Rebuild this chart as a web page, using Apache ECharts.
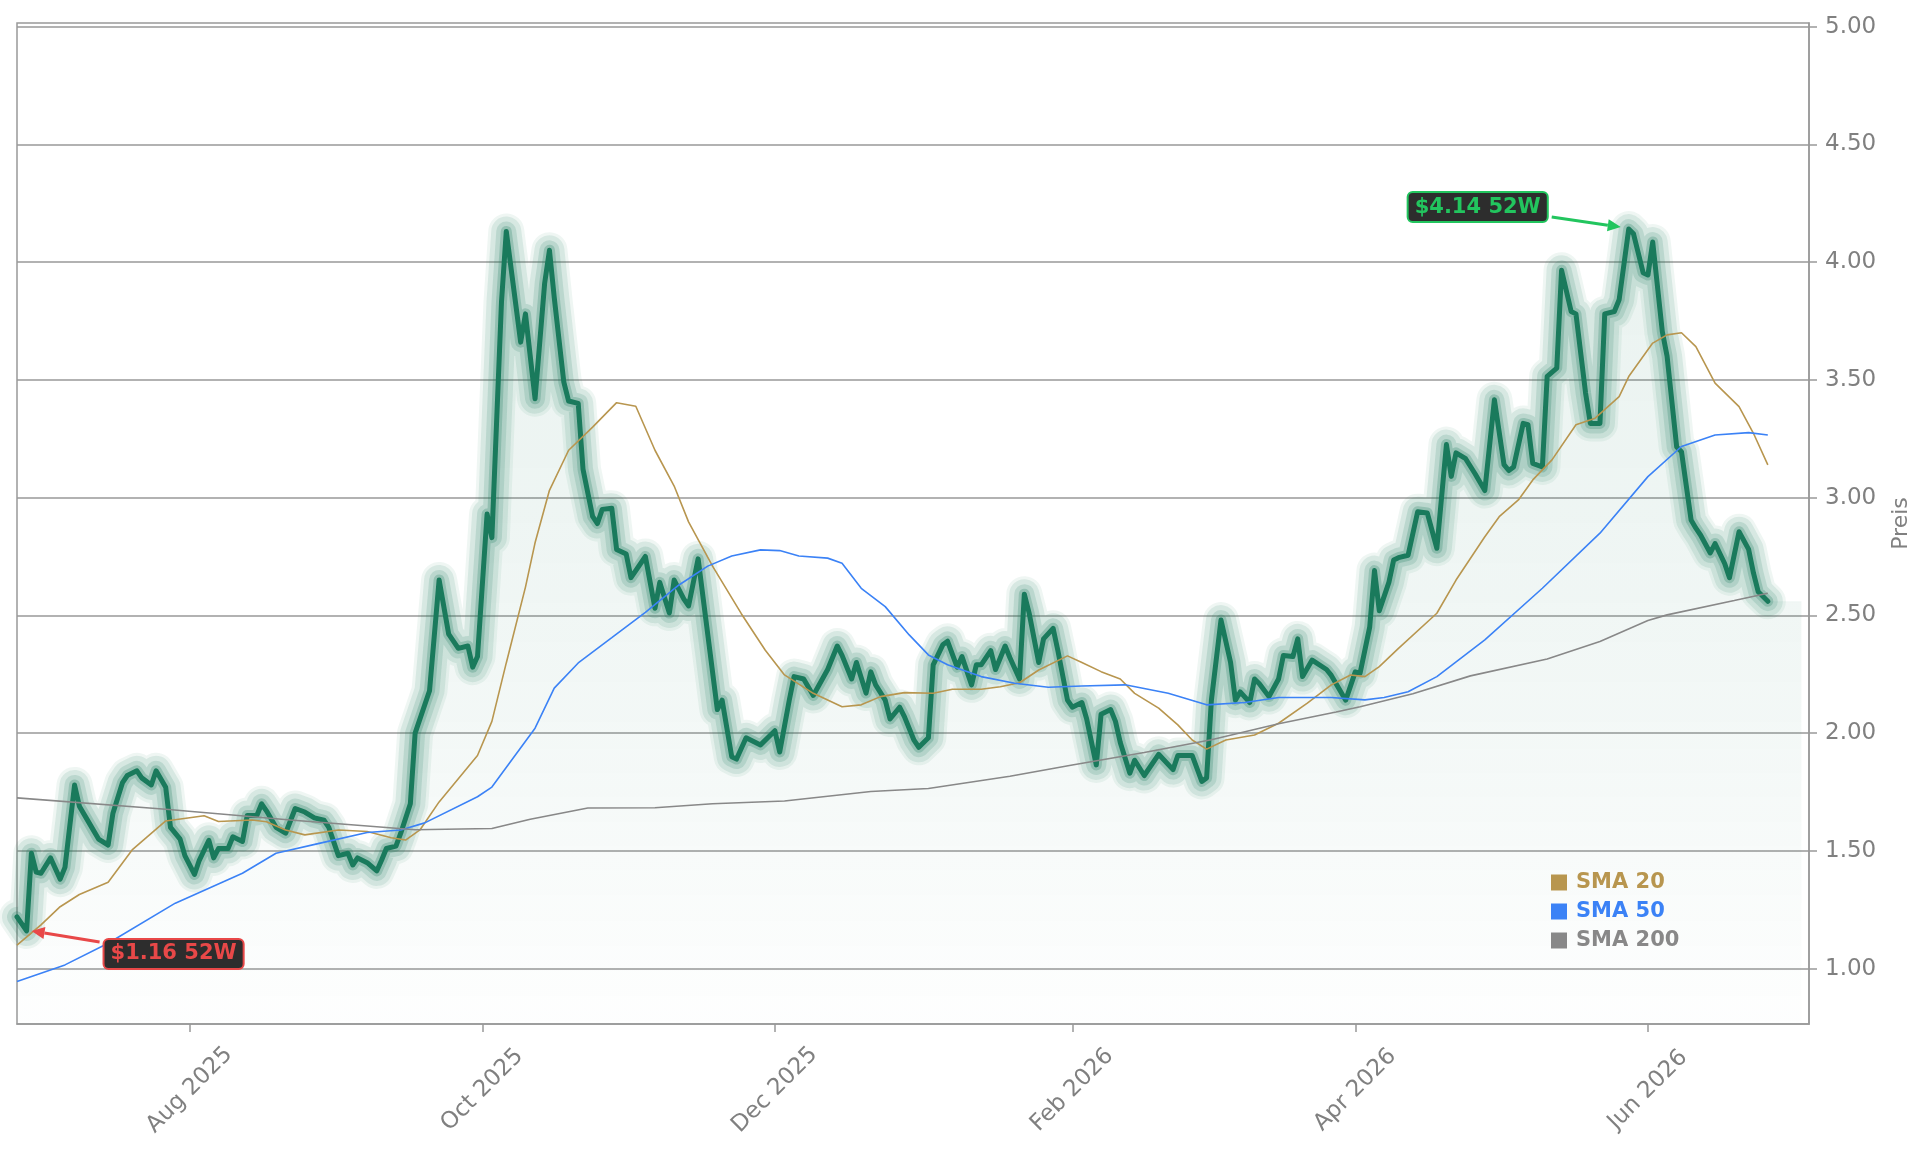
<!DOCTYPE html>
<html>
<head>
<meta charset="utf-8">
<script src="https://cdn.jsdelivr.net/npm/echarts@6/dist/echarts.min.js"></script>
<style>
  html, body { margin: 0; padding: 0; background: #fff; }
  #chart { width: 1929px; height: 1157px; }
</style>
</head>
<body>
<div id="chart"></div>
<script>
// daily close
const price = [
  ['2025-06-26',1.22],['2025-06-28',1.16],['2025-06-29',1.49],['2025-06-30',1.41],['2025-07-01',1.405],['2025-07-03',1.47],
  ['2025-07-05',1.38],['2025-07-06',1.43],['2025-07-08',1.78],['2025-07-09',1.69],['2025-07-11',1.62],['2025-07-13',1.55],
  ['2025-07-15',1.525],['2025-07-16',1.66],['2025-07-18',1.79],['2025-07-19',1.82],['2025-07-21',1.84],['2025-07-22',1.81],
  ['2025-07-24',1.78],['2025-07-25',1.84],['2025-07-27',1.77],['2025-07-28',1.60],['2025-07-30',1.55],['2025-07-31',1.48],
  ['2025-08-02',1.40],['2025-08-03',1.46],['2025-08-05',1.545],['2025-08-06',1.47],['2025-08-07',1.51],['2025-08-09',1.51],
  ['2025-08-10',1.56],['2025-08-12',1.54],['2025-08-13',1.65],['2025-08-15',1.65],['2025-08-16',1.70],['2025-08-17',1.67],
  ['2025-08-19',1.60],['2025-08-21',1.575],['2025-08-23',1.68],['2025-08-25',1.665],['2025-08-27',1.64],['2025-08-29',1.63],
  ['2025-08-30',1.60],['2025-09-01',1.48],['2025-09-03',1.49],['2025-09-04',1.44],['2025-09-05',1.47],['2025-09-07',1.45],
  ['2025-09-09',1.415],['2025-09-10',1.46],['2025-09-11',1.51],['2025-09-13',1.52],['2025-09-14',1.575],['2025-09-16',1.70],
  ['2025-09-17',2.00],['2025-09-20',2.18],['2025-09-22',2.65],['2025-09-24',2.42],['2025-09-26',2.36],['2025-09-28',2.37],
  ['2025-09-29',2.28],['2025-09-30',2.325],['2025-10-02',2.93],['2025-10-03',2.83],['2025-10-05',3.83],['2025-10-06',4.13],
  ['2025-10-09',3.66],['2025-10-10',3.78],['2025-10-12',3.42],['2025-10-14',3.91],['2025-10-15',4.05],['2025-10-16',3.85],
  ['2025-10-18',3.49],['2025-10-19',3.41],['2025-10-21',3.40],['2025-10-22',3.12],['2025-10-24',2.92],['2025-10-25',2.89],
  ['2025-10-26',2.95],['2025-10-28',2.955],['2025-10-29',2.78],['2025-10-31',2.76],['2025-11-01',2.66],['2025-11-04',2.75],
  ['2025-11-06',2.53],['2025-11-07',2.64],['2025-11-09',2.51],['2025-11-10',2.65],['2025-11-12',2.57],['2025-11-13',2.54],
  ['2025-11-15',2.74],['2025-11-18',2.26],['2025-11-19',2.10],['2025-11-20',2.14],['2025-11-22',1.90],['2025-11-23',1.89],
  ['2025-11-25',1.98],['2025-11-28',1.95],['2025-12-01',2.01],['2025-12-02',1.92],['2025-12-04',2.14],['2025-12-05',2.24],
  ['2025-12-07',2.23],['2025-12-09',2.16],['2025-12-12',2.27],['2025-12-14',2.37],['2025-12-15',2.33],['2025-12-17',2.23],
  ['2025-12-18',2.30],['2025-12-20',2.17],['2025-12-21',2.26],['2025-12-22',2.205],['2025-12-24',2.14],['2025-12-25',2.06],
  ['2025-12-27',2.11],['2025-12-28',2.07],['2025-12-30',1.97],['2025-12-31',1.94],['2026-01-02',1.98],['2026-01-03',2.29],
  ['2026-01-05',2.375],['2026-01-06',2.39],['2026-01-08',2.28],['2026-01-09',2.325],['2026-01-11',2.205],['2026-01-12',2.29],
  ['2026-01-13',2.29],['2026-01-15',2.35],['2026-01-16',2.27],['2026-01-18',2.37],['2026-01-19',2.32],['2026-01-21',2.23],
  ['2026-01-22',2.59],['2026-01-23',2.51],['2026-01-25',2.30],['2026-01-26',2.40],['2026-01-28',2.445],['2026-01-29',2.35],
  ['2026-01-31',2.14],['2026-02-01',2.11],['2026-02-03',2.13],['2026-02-04',2.06],['2026-02-06',1.865],['2026-02-07',2.08],
  ['2026-02-09',2.10],['2026-02-10',2.05],['2026-02-11',1.96],['2026-02-13',1.83],['2026-02-14',1.885],['2026-02-16',1.82],
  ['2026-02-19',1.91],['2026-02-22',1.845],['2026-02-23',1.905],['2026-02-26',1.905],['2026-02-28',1.795],['2026-03-01',1.81],
  ['2026-03-02',2.14],['2026-03-04',2.48],['2026-03-06',2.30],['2026-03-07',2.14],['2026-03-08',2.175],['2026-03-10',2.13],
  ['2026-03-11',2.23],['2026-03-12',2.21],['2026-03-14',2.155],['2026-03-16',2.23],['2026-03-17',2.33],['2026-03-19',2.325],
  ['2026-03-20',2.40],['2026-03-21',2.24],['2026-03-23',2.31],['2026-03-26',2.27],['2026-03-27',2.245],['2026-03-29',2.175],
  ['2026-03-30',2.14],['2026-04-01',2.26],['2026-04-02',2.255],['2026-04-04',2.45],['2026-04-05',2.69],['2026-04-06',2.52],
  ['2026-04-08',2.64],['2026-04-09',2.735],['2026-04-10',2.745],['2026-04-12',2.755],['2026-04-14',2.94],['2026-04-16',2.935],
  ['2026-04-18',2.785],['2026-04-20',3.225],['2026-04-21',3.09],['2026-04-22',3.19],['2026-04-24',3.165],['2026-04-26',3.10],
  ['2026-04-28',3.03],['2026-04-30',3.415],['2026-05-02',3.14],['2026-05-03',3.115],['2026-05-04',3.13],['2026-05-06',3.315],
  ['2026-05-07',3.31],['2026-05-08',3.145],['2026-05-10',3.13],['2026-05-11',3.515],['2026-05-13',3.55],['2026-05-14',3.965],
  ['2026-05-16',3.79],['2026-05-17',3.78],['2026-05-19',3.445],['2026-05-20',3.315],['2026-05-22',3.315],['2026-05-23',3.78],
  ['2026-05-25',3.79],['2026-05-26',3.84],['2026-05-28',4.14],['2026-05-29',4.12],['2026-05-31',3.955],['2026-06-01',3.945],
  ['2026-06-02',4.085],['2026-06-04',3.705],['2026-06-05',3.60],['2026-06-07',3.215],['2026-06-08',3.195],['2026-06-10',2.905],
  ['2026-06-11',2.87],['2026-06-12',2.84],['2026-06-14',2.765],['2026-06-15',2.805],['2026-06-17',2.72],['2026-06-18',2.66],
  ['2026-06-20',2.855],['2026-06-22',2.78],['2026-06-23',2.68],['2026-06-24',2.60],['2026-06-26',2.56]
];

// the shaded area runs on flat a little past the last close
const fillEnd = ['2026-07-03', 2.56];

const sma20 = [
  ['2025-06-26',1.10],['2025-07-01',1.186],['2025-07-05',1.263],['2025-07-09',1.315],['2025-07-15',1.367],['2025-07-20',1.504],
  ['2025-07-27',1.627],['2025-08-01',1.641],['2025-08-04',1.649],['2025-08-07',1.625],['2025-08-14',1.631],['2025-08-17',1.624],
  ['2025-08-21',1.589],['2025-08-25',1.568],['2025-09-01',1.589],['2025-09-07',1.582],['2025-09-12',1.556],['2025-09-15',1.546],
  ['2025-09-18',1.589],['2025-09-22',1.708],['2025-09-30',1.905],['2025-10-03',2.05],['2025-10-06',2.298],['2025-10-10',2.62],
  ['2025-10-12',2.808],['2025-10-15',3.031],['2025-10-19',3.201],['2025-10-24',3.299],['2025-10-29',3.403],['2025-11-02',3.388],
  ['2025-11-06',3.201],['2025-11-10',3.049],['2025-11-13',2.897],['2025-11-18',2.709],['2025-11-24',2.507],['2025-11-29',2.352],
  ['2025-12-03',2.247],['2025-12-09',2.169],['2025-12-15',2.112],['2025-12-19',2.12],['2025-12-23',2.155],['2025-12-28',2.172],
  ['2026-01-03',2.169],['2026-01-07',2.186],['2026-01-13',2.186],['2026-01-17',2.197],['2026-01-21',2.214],['2026-01-25',2.268],
  ['2026-01-31',2.328],['2026-02-03',2.30],['2026-02-07',2.261],['2026-02-11',2.23],['2026-02-14',2.169],['2026-02-19',2.106],
  ['2026-02-23',2.035],['2026-02-26',1.971],['2026-03-01',1.932],['2026-03-05',1.971],['2026-03-11',1.992],['2026-03-16',2.042],
  ['2026-03-22',2.127],['2026-03-27',2.205],['2026-03-31',2.247],['2026-04-03',2.24],['2026-04-06',2.282],['2026-04-10',2.36],
  ['2026-04-18',2.509],['2026-04-22',2.65],['2026-04-28',2.834],['2026-05-01',2.919],['2026-05-05',2.99],['2026-05-08',3.075],
  ['2026-05-12',3.16],['2026-05-17',3.309],['2026-05-21',3.337],['2026-05-26',3.429],['2026-05-28',3.514],['2026-06-02',3.656],
  ['2026-06-05',3.691],['2026-06-08',3.70],['2026-06-11',3.641],['2026-06-15',3.486],['2026-06-20',3.386],['2026-06-23',3.273],
  ['2026-06-26',3.139]
];

const sma50 = [
  ['2025-06-26',0.945],['2025-07-06',1.016],['2025-07-15',1.108],['2025-07-29',1.278],['2025-08-12',1.405],['2025-08-19',1.49],
  ['2025-08-28',1.532],['2025-09-07',1.578],['2025-09-14',1.589],['2025-09-19',1.619],['2025-09-30',1.73],['2025-10-03',1.771],
  ['2025-10-12',2.021],['2025-10-16',2.191],['2025-10-21',2.298],['2025-10-28',2.405],['2025-11-04',2.513],['2025-11-11',2.629],
  ['2025-11-17',2.709],['2025-11-22',2.752],['2025-11-28',2.778],['2025-12-02',2.775],['2025-12-06',2.752],['2025-12-12',2.743],
  ['2025-12-15',2.721],['2025-12-19',2.615],['2025-12-24',2.537],['2025-12-29',2.417],['2026-01-02',2.332],['2026-01-06',2.29],
  ['2026-01-13',2.24],['2026-01-20',2.212],['2026-01-27',2.195],['2026-02-03',2.20],['2026-02-12',2.205],['2026-02-21',2.169],
  ['2026-03-01',2.12],['2026-03-09',2.13],['2026-03-16',2.151],['2026-03-27',2.151],['2026-04-03',2.141],['2026-04-07',2.151],
  ['2026-04-12',2.176],['2026-04-18',2.24],['2026-04-28',2.396],['2026-05-10',2.615],['2026-05-22',2.849],['2026-06-01',3.089],
  ['2026-06-08',3.217],['2026-06-15',3.266],['2026-06-22',3.276],['2026-06-26',3.266]
];

const sma200 = [
  ['2025-06-26',1.725],['2025-07-27',1.677],['2025-08-22',1.631],['2025-09-17',1.590],['2025-10-03',1.595],['2025-10-11',1.634],
  ['2025-10-23',1.682],['2025-11-06',1.683],['2025-11-18',1.700],['2025-12-03',1.712],['2025-12-21',1.752],['2026-01-02',1.765],
  ['2026-01-19',1.817],['2026-02-01',1.865],['2026-02-16',1.918],['2026-03-02',1.972],['2026-03-16',2.040],['2026-03-28',2.090],
  ['2026-04-02',2.112],['2026-04-13',2.167],['2026-04-25',2.243],['2026-05-11',2.315],['2026-05-22',2.389],['2026-06-01',2.478],
  ['2026-06-05',2.502],['2026-06-19',2.563],['2026-06-26',2.594]
];

const monthTicks = ['2025-08-01','2025-10-01','2025-12-01','2026-02-01','2026-04-01','2026-06-01'];
const priceTicks = [1.0, 1.5, 2.0, 2.5, 3.0, 3.5, 4.0, 4.5, 5.0];
const monthNames = ['Jan','Feb','Mar','Apr','May','Jun','Jul','Aug','Sep','Oct','Nov','Dec'];

const GREEN = '#1a7a5c';
const C20 = '#b8964f';
const C50 = '#3b82f6';
const C200 = '#888888';
const FONT = 'DejaVu Sans';

function ts(s) {
  const p = s.split('-');
  return new Date(+p[0], +p[1] - 1, +p[2]).getTime();
}
const toXY = arr => arr.map(d => [ts(d[0]), d[1]]);

const glowWidths = [36, 30, 20, 11];
const glowAlpha = [0.07, 0.11, 0.15, 0.24];

const chart = echarts.init(document.getElementById('chart'));

const series = [
  {
    type: 'line', data: toXY(price.concat([fillEnd])), symbol: 'none', silent: true, z: 1,
    lineStyle: { width: 0 },
    areaStyle: {
      origin: 'start',
      color: new echarts.graphic.LinearGradient(0, 0, 0, 1, [
        { offset: 0, color: 'rgba(26,122,92,0.13)' },
        { offset: 0.35, color: 'rgba(26,122,92,0.105)' },
        { offset: 0.63, color: 'rgba(26,122,92,0.075)' },
        { offset: 0.8, color: 'rgba(26,122,92,0.045)' },
        { offset: 1, color: 'rgba(26,122,92,0.008)' }
      ])
    }
  }
];
glowWidths.forEach((w, i) => {
  series.push({
    type: 'line', data: toXY(price), symbol: 'none', silent: true, z: 2,
    lineStyle: { color: GREEN, width: w, opacity: glowAlpha[i], cap: 'round', join: 'round' }
  });
});
series.push({
  type: 'line', data: toXY(price), symbol: 'none', silent: true, z: 3,
  lineStyle: { color: GREEN, width: 5, cap: 'round', join: 'round' }
});
[['SMA 20', sma20, C20], ['SMA 50', sma50, C50], ['SMA 200', sma200, C200]].forEach(s => {
  series.push({
    name: s[0], type: 'line', data: toXY(s[1]), symbol: 'none', silent: true, z: 4,
    color: s[2], lineStyle: { color: s[2], width: 1.6 }
  });
});

const option = {
  animation: false,
  textStyle: { fontFamily: FONT },
  grid: { left: 17, right: 120, top: 23, bottom: 133, show: true, borderColor: '#999', borderWidth: 1.5 },
  legend: {
    orient: 'vertical', left: 1551, top: 872, itemGap: 8, padding: 0,
    icon: 'rect', itemWidth: 16, itemHeight: 16, selectedMode: false,
    textStyle: { fontSize: 21, fontWeight: 'bold', fontFamily: FONT, padding: [0, 0, 0, 4] },
    data: [
      { name: 'SMA 20', textStyle: { color: C20 } },
      { name: 'SMA 50', textStyle: { color: C50 } },
      { name: 'SMA 200', textStyle: { color: C200 } }
    ]
  },
  xAxis: {
    type: 'value',
    min: ts('2025-06-26'),
    max: ts('2026-07-04') + 14 * 3600 * 1000,
    axisLine: { lineStyle: { color: '#999', width: 1.5 } },
    axisTick: { customValues: monthTicks.map(ts), length: 8, lineStyle: { color: '#999', width: 1.5 } },
    axisLabel: {
      customValues: monthTicks.map(ts),
      formatter: v => { const d = new Date(v); return monthNames[d.getMonth()] + ' ' + d.getFullYear(); },
      rotate: 45, align: 'center', verticalAlign: 'middle', margin: 66,
      color: '#808080', fontSize: 23, fontFamily: FONT
    },
    splitLine: { show: false }
  },
  yAxis: {
    type: 'value', position: 'right',
    min: 0.765, max: 5.015,
    name: 'Preis', nameLocation: 'middle', nameRotate: 90, nameGap: 81,
    nameTextStyle: { color: '#808080', fontSize: 22, fontFamily: FONT },
    axisLine: { show: true, lineStyle: { color: '#999', width: 1.5 } },
    axisTick: { show: true, customValues: priceTicks, length: 8, lineStyle: { color: '#999', width: 1.5 } },
    axisLabel: {
      customValues: priceTicks, formatter: v => v.toFixed(2),
      color: '#808080', fontSize: 23, fontFamily: FONT, margin: 16
    },
    splitLine: { show: true, lineStyle: { color: '#999', width: 1.5 } }
  },
  series: series
};
chart.setOption(option);

// 52-week high / low callouts, placed relative to the extreme points
function callout(pt, color, boxOff, tailOff, tipOff) {
  const p = chart.convertToPixel({ xAxisIndex: 0, yAxisIndex: 0 }, [ts(pt[0]), pt[1]]);
  const tail = [p[0] + tailOff[0], p[1] + tailOff[1]];
  const tip = [p[0] + tipOff[0], p[1] + tipOff[1]];
  const dx = tip[0] - tail[0], dy = tip[1] - tail[1];
  const len = Math.sqrt(dx * dx + dy * dy);
  const ux = dx / len, uy = dy / len;
  const bx = tip[0] - ux * 13, by = tip[1] - uy * 13;
  return [
    {
      type: 'line', z: 100,
      shape: { x1: tail[0], y1: tail[1], x2: bx, y2: by },
      style: { stroke: color, lineWidth: 3 }
    },
    {
      type: 'polygon', z: 100,
      shape: { points: [tip, [bx - uy * 6, by + ux * 6], [bx + uy * 6, by - ux * 6]] },
      style: { fill: color }
    },
    {
      type: 'text', z: 101,
      x: p[0] + boxOff[0], y: p[1] + boxOff[1],
      style: {
        text: '$' + pt[1].toFixed(2) + ' 52W',
        font: 'bold 21px "DejaVu Sans"',
        fill: color, align: 'center', verticalAlign: 'middle',
        backgroundColor: '#2d2d2d', borderColor: color, borderWidth: 2, borderRadius: 4,
        padding: [4, 6, 3, 6]
      }
    }
  ];
}

let hi = price[0], lo = price[0];
price.forEach(d => { if (d[1] > hi[1]) hi = d; if (d[1] < lo[1]) lo = d; });

chart.setOption({
  graphic: {
    elements: callout(hi, '#22c55e', [-151, -22], [-77, -12], [-8, -2])
      .concat(callout(lo, '#e84848', [147, 23], [73, 11], [5, 0]))
  }
});
</script>
</body>
</html>
